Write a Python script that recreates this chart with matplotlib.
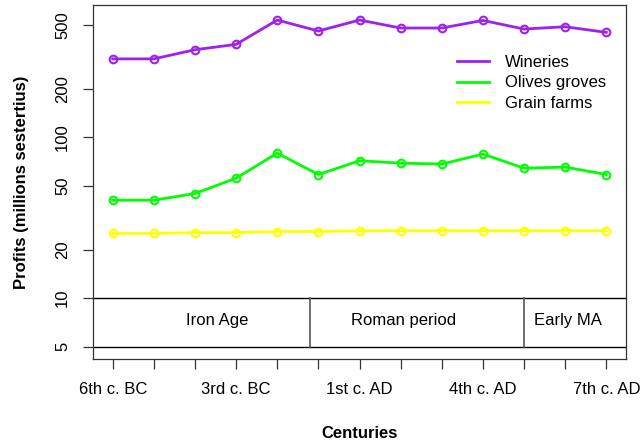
import matplotlib.pyplot as plt
from matplotlib.lines import Line2D

plt.rcParams['font.family'] = ['Liberation Sans', 'DejaVu Sans']

centuries = ['6th c. BC', '5th c. BC', '4th c. BC', '3rd c. BC', '2nd c. BC', '1st c. BC',
             '1st c. AD', '2nd c. AD', '3rd c. AD', '4th c. AD', '5th c. AD', '6th c. AD',
             '7th c. AD']
wineries = [308, 308, 351, 379, 537, 459, 537, 479, 479, 534, 472, 488, 450]
olives = [40.7, 40.7, 44.8, 55.8, 79.9, 58.8, 71.6, 69.2, 68.3, 78.8, 64.4, 65.4, 58.8]
grain = [25.3, 25.3, 25.6, 25.6, 26.0, 26.0, 26.3, 26.3, 26.3, 26.3, 26.3, 26.3, 26.3]

periods = ['Iron Age', 'Roman period', 'Early MA']
period_label_x = [3.53, 8.07, 12.08]
period_breaks = [5.8, 11]

series = [('Wineries', wineries, '#A020F0'),
          ('Olives groves', olives, '#00FF00'),
          ('Grain farms', grain, '#FFFF00')]

x = list(range(1, len(centuries) + 1))

fig = plt.figure(figsize=(6.41, 4.44), dpi=100)
ax = fig.add_axes([93 / 641, 1 - 359 / 444, (626 - 93) / 641, (359 - 5) / 444])

for name, vals, col in series:
    ax.plot(x, vals, color=col, lw=2, marker='o', ms=5.5, mfc='none', mew=1.5)

ax.set_yscale('log')
ax.set_xlim(0.52, 13.48)
ax.set_ylim(4.19, 666)

# period band between 5 and 10
for h in (5, 10):
    ax.axhline(h, color='black', lw=1)
for b in period_breaks:
    ax.plot([b, b], [5, 10], color='#555555', lw=1.2)
for name, px in zip(periods, period_label_x):
    ax.text(px, 7.22, name, ha='center', va='center', fontsize=12)

ax.set_yticks([5, 10, 20, 50, 100, 200, 500])
ax.set_yticklabels(['5', '10', '20', '50', '100', '200', '500'], rotation=90, va='center')
ax.minorticks_off()
ax.set_xticks(x)
ax.set_xticklabels([c if i % 3 == 0 else '' for i, c in enumerate(centuries)])
ax.tick_params(axis='both', length=7.5, width=0.9, labelsize=12, color='#333333')
ax.tick_params(axis='y', pad=9)
ax.tick_params(axis='x', pad=9)
for s in ax.spines.values():
    s.set_linewidth(0.9)
    s.set_color('#333333')

ax.set_xlabel('Centuries', fontsize=12, fontweight='bold', labelpad=21)
ax.set_ylabel('Profits (millions sestertius)', fontsize=12, fontweight='bold', labelpad=19)

handles = [Line2D([], [], color=col, lw=2) for _, _, col in series]
fig.legend(handles, [s[0] for s in series], loc='upper left',
           bbox_to_anchor=(457 / 641, 1 - 55 / 444), frameon=False, fontsize=12,
           handlelength=1.92, handletextpad=0.95, labelspacing=0.33,
           borderpad=0, borderaxespad=0)

fig.savefig('out.png', dpi=100)
